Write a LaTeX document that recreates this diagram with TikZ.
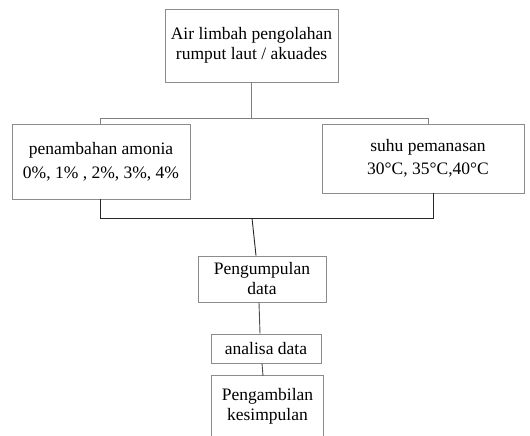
\documentclass[tikz,border=0pt]{standalone}
\usepackage{fontspec}
\setmainfont{Liberation Serif}
\begin{document}
\begin{tikzpicture}[x=1pt,y=-1pt,
  box/.style={draw=black!45,line width=0.9pt,align=center,inner sep=0pt,
    font=\fontsize{17.5}{20}\selectfont},
  opbox/.style={align=center,inner sep=0pt,font=\fontsize{17.5}{20}\selectfont},
  gline/.style={draw=black!50,line width=0.9pt},
  bline/.style={draw=black!85,line width=0.9pt}]
\useasboundingbox (0,0) rectangle (530,436);
\node[box,minimum width=173pt,minimum height=73pt] (top) at (251.5,45.5)
  {Air limbah pengolahan\\rumput laut / akuades};
\node[box,minimum width=178pt,minimum height=75pt] (left) at (101,161.5)
  {penambahan amonia\\[4pt]0\%, 1\% , 2\%, 3\%, 4\%};
\node[box,minimum width=202pt,minimum height=69pt] (right) at (423,158.5)
  {\hspace*{10pt}suhu pemanasan\\[3pt]\hspace*{10pt}30°C, 35°C,40°C};
\node[box,minimum width=128pt,minimum height=46pt] (peng) at (262,279)
  {Pengumpulan\\data};
\node[box,minimum width=110pt,minimum height=29pt] (anal) at (266,348.5)
  {analisa data};
\node[opbox,minimum width=111pt,minimum height=60pt] (ambil) at (267.5,406)
  {Pengambilan\\kesimpulan};
\draw[draw=black!45,line width=0.9pt] (ambil.south west) -- (ambil.north west)
  -- (ambil.north east) -- (ambil.south east);
% top connectors
\coordinate (j1) at (251.5,118);
\coordinate (jl) at (100,118);
\coordinate (jr) at (428,118);
\draw[gline] (top.south) -- (j1);
\draw[gline] (jl) -- (jr);
\draw[gline] (jl) -- (jl |- left.north);
\draw[gline] (jr) -- (jr |- right.north);
% bottom connectors
\coordinate (bl) at (100,218);
\coordinate (br) at (433,218);
\coordinate (bc) at (252,218);
\draw[bline] (bl |- left.south) -- (bl) -- (br) -- (br |- right.south);
\draw[bline] (bc) -- ([xshift=-6pt]peng.north);
\draw[gline,draw=black!70] ([xshift=-3pt]peng.south) -- ([xshift=-6pt]anal.north);
\draw[gline,draw=black!70] ([xshift=-4pt]anal.south) -- ([xshift=-4.5pt]ambil.north);
\end{tikzpicture}
\end{document}
